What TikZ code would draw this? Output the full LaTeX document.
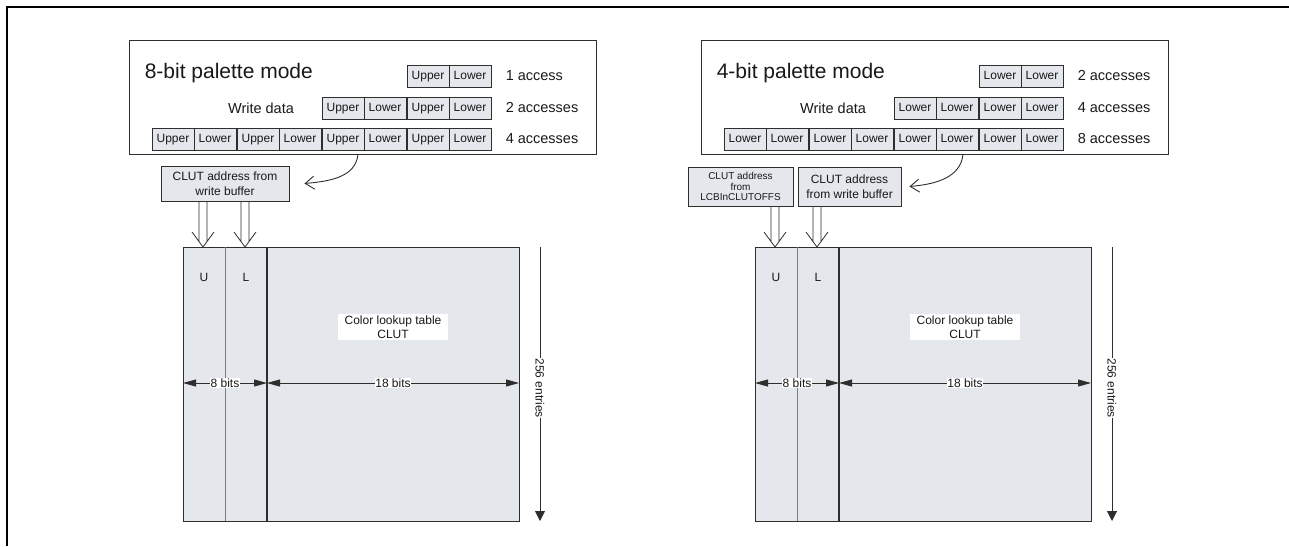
\documentclass[tikz,border=0pt]{standalone}
\usepackage{fontspec}
\setmainfont{Liberation Sans}
\usetikzlibrary{arrows.meta,calc}
\definecolor{edge}{HTML}{2E2E2E}
\definecolor{boxgray}{HTML}{E4E7EC}
\definecolor{divgray}{HTML}{7C7C7C}
\tikzset{
  every node/.style={font=\fontsize{12}{14.5}\selectfont,text=black!90},
  frameline/.style={draw=black,line width=2pt},
  modebox/.style={draw=edge,line width=1.2pt,minimum width=467pt,minimum height=114pt,anchor=north west},
  modetitle/.style={anchor=base west,font=\fontsize{21}{24}\selectfont},
  accnote/.style={anchor=west,font=\fontsize{14.5}{16}\selectfont},
  cell/.style={draw=edge,fill=boxgray,line width=.8pt,minimum width=42pt,minimum height=22pt,
    inner sep=0pt,text height=8.6pt,text depth=2.6pt,font=\fontsize{12}{12}\selectfont},
  addrbox/.style={draw=edge,fill=boxgray,line width=.9pt,inner sep=0pt,align=center},
  tablebox/.style={draw=edge,fill=boxgray,line width=1.3pt,anchor=north west,
    minimum width=336pt,minimum height=274pt,inner sep=0pt},
  divline/.style={draw=divgray,line width=1pt},
  colline/.style={draw=edge,line width=1.2pt},
  whitelabel/.style={fill=white,align=center,inner xsep=6.5pt,inner ysep=1.5pt},
  dimline/.style={{Triangle[length=13pt,width=7pt]}-{Triangle[length=13pt,width=7pt]},draw=edge,line width=.9pt},
  dimlabel/.style={fill=white,inner sep=.6pt},
  entryline/.style={-{Triangle[length=10pt,width=10pt]},draw=edge,line width=.9pt},
  bendarrow/.style={-{Straight Barb[length=9pt,width=13pt]},draw=edge,line width=.9pt},
  hollow/.style={draw=edge,line width=.8pt,line join=miter}}
\begin{document}
\begin{tikzpicture}[x=1pt,y=-1pt,line width=.9pt]
\useasboundingbox (0,0) rectangle (1289,546);
\draw[frameline] (7,546)--(7,7)--(1289,7);
% 8-bit palette mode
\node[modebox] (mode8) at (129,40) {};
\node[modetitle] (title8) at (141,78) {8-bit palette mode};
\foreach \y/\k [count=\r] in {76/3,108/2,139/0}
  \foreach \p in {\k,...,3} {
    \node[cell] (c8\r\p u) at ({173+85*\p},\y) {Upper};
    \node[cell] (c8\r\p l) at ({215+85*\p},\y) {Lower};
  }
\node[accnote] (n8a) at (502,76) {1 access};
\node[accnote] (n8b) at (502,108) {2 accesses};
\node[accnote] (n8c) at (502,139) {4 accesses};
\node[accnote,anchor=center] (wd8) at (261,108) {Write data};
\node[addrbox,minimum width=128pt,minimum height=35pt] (addr8) at (225,183.5) {CLUT address from\\write buffer};
\coordinate (src8) at (358,154);
\draw[bendarrow] (src8) to[out=-95,in=5] ([xshift=15pt]addr8.east);
\node[tablebox] (tab8) at (183,247) {};
\draw[divline] (225,247)--(225,521);
\draw[colline] (267,247)--(267,521);
\node (u8) at (204,277) {U};
\node (l8) at (246,277) {L};
\node[whitelabel] (clut8) at (393,327) {Color lookup table\\CLUT};
\draw[dimline] (183,383)--(267,383) node[dimlabel,midway] (b8) {8 bits};
\draw[dimline] (267,383)--(519,383) node[dimlabel,midway] (b18) {18 bits};
\draw[entryline] (540,247)--(540,521) node[dimlabel,pos=.515,rotate=-90] (e8) {256 entries};
\coordinate (h8u) at (203,247);
\coordinate (h8l) at (245,247);
% 4-bit palette mode
\node[modebox] (mode4) at (701,40) {};
\node[modetitle] (title4) at (713,78) {4-bit palette mode};
\foreach \y/\k [count=\r] in {76/3,108/2,139/0}
  \foreach \p in {\k,...,3} {
    \node[cell] (c4\r\p u) at ({745+85*\p},\y) {Lower};
    \node[cell] (c4\r\p l) at ({787+85*\p},\y) {Lower};
  }
\node[accnote] (n4a) at (1074,76) {2 accesses};
\node[accnote] (n4b) at (1074,108) {4 accesses};
\node[accnote] (n4c) at (1074,139) {8 accesses};
\node[accnote,anchor=center] (wd4) at (833,108) {Write data};
\node[addrbox,minimum width=105pt,minimum height=39pt,font=\fontsize{10}{10.5}\selectfont] (addroffs) at (740.5,186.5) {CLUT address\\from\\LCBInCLUTOFFS};
\node[addrbox,minimum width=103pt,minimum height=39pt] (addr4) at (849.5,186.5) {CLUT address\\from write buffer};
\coordinate (src4) at (963,154);
\draw[bendarrow] (src4) to[out=-95,in=5] ([xshift=8pt]addr4.east);
\node[tablebox] (tab4) at (755,247) {};
\draw[divline] (797,247)--(797,521);
\draw[colline] (839,247)--(839,521);
\node (u4) at (776,277) {U};
\node (l4) at (818,277) {L};
\node[whitelabel] (clut4) at (965,327) {Color lookup table\\CLUT};
\draw[dimline] (755,383)--(839,383) node[dimlabel,midway] (b4) {8 bits};
\draw[dimline] (839,383)--(1091,383) node[dimlabel,midway] (b418) {18 bits};
\draw[entryline] (1112,247)--(1112,521) node[dimlabel,pos=.515,rotate=-90] (e4) {256 entries};
\coordinate (h4u) at (775,247);
\coordinate (h4l) at (817,247);
% hollow feed arrows
\foreach \t/\s in {h8u/addr8,h8l/addr8,h4u/addroffs,h4l/addr4} {
  \draw[hollow] ($(\t |- \s.south)+(-4,0)$) -- ($(\t)+(-4,-5.5)$)
    ($(\t |- \s.south)+(4,0)$) -- ($(\t)+(4,-5.5)$)
    ($(\t)+(-11,-15)$) -- (\t) -- ($(\t)+(11,-15)$);
}
\end{tikzpicture}
\end{document}
